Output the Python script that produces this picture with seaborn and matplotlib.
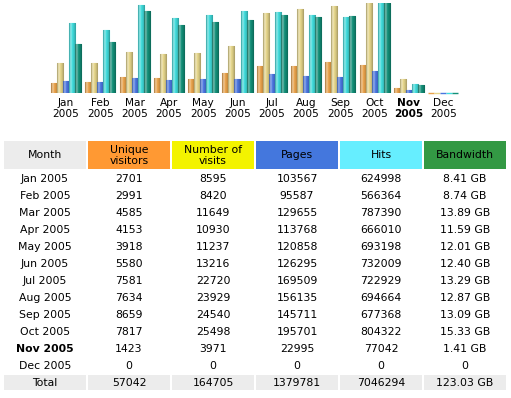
import numpy as np
import pandas as pd
import seaborn as sns
import matplotlib
matplotlib.use("Agg")
import matplotlib.pyplot as plt
from matplotlib.colors import LinearSegmentedColormap, to_rgb

months = ['Jan', 'Feb', 'Mar', 'Apr', 'May', 'Jun', 'Jul', 'Aug', 'Sep', 'Oct', 'Nov', 'Dec']
year = '2005'
unique_visitors = [2701, 2991, 4585, 4153, 3918, 5580, 7581, 7634, 8659, 7817, 1423, 0]
visits = [8595, 8420, 11649, 10930, 11237, 13216, 22720, 23929, 24540, 25498, 3971, 0]
pages = [103567, 95587, 129655, 113768, 120858, 126295, 169509, 156135, 145711, 195701, 22995, 0]
hits = [624998, 566364, 787390, 666010, 693198, 732009, 722929, 694664, 677368, 804322, 77042, 0]
bandwidth_gb = [8.41, 8.74, 13.89, 11.59, 12.01, 12.40, 13.29, 12.87, 13.09, 15.33, 1.41, 0]
current_month = 'Nov'

headers = ['Month', 'Unique\nvisitors', 'Number of\nvisits', 'Pages', 'Hits', 'Bandwidth']
header_colors = ['#ECECEC', '#FF9933', '#F3F300', '#4477DD', '#66EEFF', '#339944']
bar_colors = ['#E9A24A', '#E6D68A', '#4A76E0', '#3FDCDC', '#129079']

# awstats scales visitors/visits together, pages/hits together, bandwidth alone
vmax = max(visits)
hmax = max(hits)
bmax = max(bandwidth_gb)
series = {
    'Unique visitors': [v / vmax for v in unique_visitors],
    'Number of visits': [v / vmax for v in visits],
    'Pages': [v / hmax for v in pages],
    'Hits': [v / hmax for v in hits],
    'Bandwidth': [v / bmax for v in bandwidth_gb],
}
rows = []
for name, vals in series.items():
    for m, v in zip(months, vals):
        rows.append({'month': m, 'metric': name, 'value': v})
df = pd.DataFrame(rows)

sns.set_style('white')
plt.rcParams['font.family'] = ['DejaVu Sans']
plt.rcParams['text.color'] = 'black'
plt.rcParams['xtick.color'] = 'black'

W, H = 511, 398
fig = plt.figure(figsize=(W / 100, H / 100), dpi=100)

# table area in pixel coordinates
tab = fig.add_axes([0, 0, 1, 1])
tab.set_xlim(0, W)
tab.set_ylim(H, 0)
tab.axis('off')

col_left = [4 + 84 * i for i in range(6)]
col_w = 82
fs = 7.8
for i, (h, c) in enumerate(zip(headers, header_colors)):
    tab.add_patch(plt.Rectangle((col_left[i], 141), col_w, 28, color=c, lw=0))
    tab.text(col_left[i] + col_w / 2, 155.5, h, ha='center', va='center',
             fontsize=fs, linespacing=1.15)

row_y0, row_dy = 179.3, 16.95
bw_text = ['%.2f GB' % b if b > 0 else '0' for b in bandwidth_gb]
for r, m in enumerate(months):
    y = row_y0 + r * row_dy
    vals = [m + ' ' + year, unique_visitors[r], visits[r], pages[r], hits[r], bw_text[r]]
    for i, v in enumerate(vals):
        weight = 'bold' if (i == 0 and m == current_month) else 'normal'
        tab.text(col_left[i] + col_w / 2, y, str(v), ha='center', va='center',
                 fontsize=fs, fontweight=weight)

totals = ['Total', sum(unique_visitors), sum(visits), sum(pages), sum(hits),
          '%.2f GB' % sum(bandwidth_gb)]
for i, v in enumerate(totals):
    tab.add_patch(plt.Rectangle((col_left[i], 375), col_w, 15, color='#ECECEC', lw=0))
    tab.text(col_left[i] + col_w / 2, 382.6, str(v), ha='center', va='center', fontsize=fs)

# bar chart
step = 34.3
left_px = 66 - step / 2
ax = fig.add_axes([left_px / W, (H - 93) / H, 12 * step / W, 90 / H])
sns.barplot(data=df, x='month', y='value', hue='metric', palette=bar_colors,
            width=0.875, dodge=True, ax=ax, legend=False, saturation=1,
            linewidth=0.8)
ax.set_xlim(-0.5, 11.5)
ax.set_ylim(0, 1)
ax.set_xlabel('')
ax.set_ylabel('')
ax.set_yticks([])
ax.set_xticklabels([m + '\n' + year for m in months], fontsize=7.6, linespacing=1.15)
ax.tick_params(axis='x', length=0, pad=3.5)
for t in ax.get_xticklabels():
    if t.get_text().startswith(current_month):
        t.set_fontweight('bold')
sns.despine(ax=ax, left=True, bottom=True)

# cylinder-like shading on each bar
for p in list(ax.patches):
    fc = to_rgb(p.get_facecolor())
    p.set_edgecolor(fc)
    h = p.get_height()
    if h <= 0:
        p.set_clip_on(False)
        p.set_linewidth(1.0)
        continue
    base = np.array(fc)
    dark = base * 0.72
    light = base + (1 - base) * 0.45
    cmap = LinearSegmentedColormap.from_list('b', [dark, light, base, base * 0.9, dark])
    x0 = p.get_x()
    w = p.get_width()
    grad = np.linspace(0, 1, 32).reshape(1, -1)
    im = ax.imshow(grad, cmap=cmap, aspect='auto', extent=[x0, x0 + w, 0, h],
                   interpolation='bilinear', zorder=p.get_zorder() + 0.1)
    im.set_clip_path(p)
ax.set_xlim(-0.5, 11.5)
ax.set_ylim(0, 1)

fig.savefig('out.png', dpi=100)
